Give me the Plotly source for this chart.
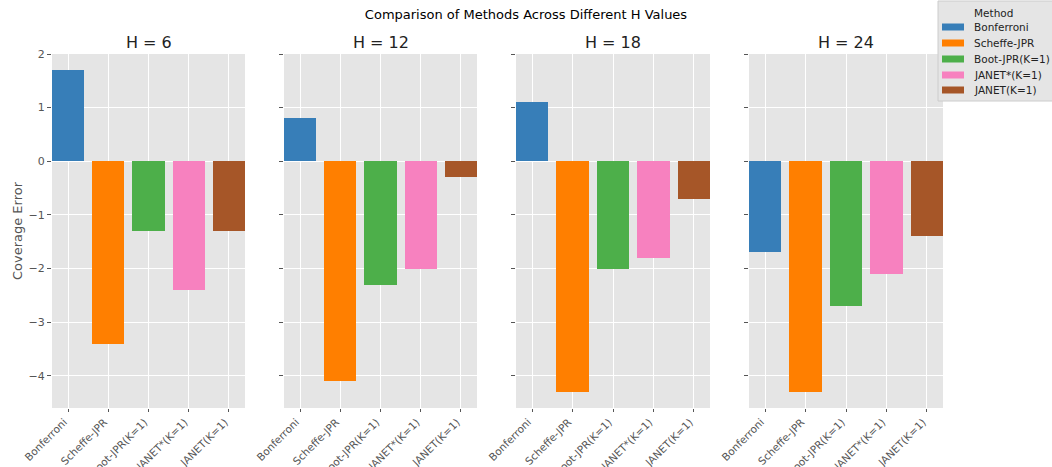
import plotly.graph_objects as go

methods = ["Bonferroni", "Scheffe-JPR", "Boot-JPR(K=1)", "JANET*(K=1)", "JANET(K=1)"]
colors = ["#377eb8", "#ff7f00", "#4daf4a", "#f781bf", "#a65628"]
h_values = ["H = 6", "H = 12", "H = 18", "H = 24"]
values_h6 = [1.7, -3.4, -1.3, -2.4, -1.3]
values_h12 = [0.8, -4.1, -2.3, -2.0, -0.3]
values_h18 = [1.1, -4.3, -2.0, -1.8, -0.7]
values_h24 = [-1.7, -4.3, -2.7, -2.1, -1.4]
panels = [values_h6, values_h12, values_h18, values_h24]
y_ticks = [-4, -3, -2, -1, 0, 1, 2]

W, H = 1052, 467
x_px = [(52, 245), (284, 477), (516, 710), (749, 943)]
y_dom = [(H - 408) / H, (H - 54) / H]

def px(x):
    return x / W

def py(y):
    return (H - y) / H

fig = go.Figure()
font_fam = "DejaVu Sans"
for p, vals in enumerate(panels):
    xa = "x" if p == 0 else f"x{p+1}"
    ya = "y" if p == 0 else f"y{p+1}"
    for m, (name, col) in enumerate(zip(methods, colors)):
        fig.add_trace(go.Bar(
            x=[name], y=[vals[m]], name=name, marker=dict(color=col, line=dict(width=0)),
            width=0.8, xaxis=xa, yaxis=ya, showlegend=False,
        ))
    axkey = "xaxis" if p == 0 else f"xaxis{p+1}"
    aykey = "yaxis" if p == 0 else f"yaxis{p+1}"
    fig.layout[axkey] = dict(
        domain=[px(x_px[p][0]), px(x_px[p][1])], anchor=ya, type="category",
        categoryorder="array", categoryarray=methods, range=[-0.4, 4.4],
        showgrid=True, gridcolor="white", gridwidth=1, tickangle=-45,
        tickfont=dict(family=font_fam, size=10.5, color="#555555"),
        ticks="outside", ticklen=3, tickcolor="#555555", showline=False, zeroline=False,
        automargin=False, ticklabelshift=-4,
    )
    fig.layout[aykey] = dict(
        domain=list(y_dom), anchor=xa, range=[-4.6, 2.0], tickvals=y_ticks,
        ticktext=[str(t).replace("-", "\u2212") for t in y_ticks],
        showticklabels=(p == 0), showgrid=True, gridcolor="white", gridwidth=1,
        zeroline=False, ticks="outside", ticklen=4, tickcolor="#555555",
        tickfont=dict(family=font_fam, size=11, color="#555555"), automargin=False,
        title=dict(text="Coverage Error" if p == 0 else "",
                   font=dict(family=font_fam, size=13, color="#555555"), standoff=3),
    )
    fig.add_annotation(
        text=h_values[p], x=px((x_px[p][0] + x_px[p][1]) / 2), y=py(42),
        xref="paper", yref="paper", showarrow=False,
        font=dict(family=font_fam, size=16, color="#222222"), xanchor="center", yanchor="middle",
    )

# Legend drawn manually so it can run off the right edge like the reference
fig.add_shape(type="rect", xref="paper", yref="paper",
              x0=px(938), x1=px(1060), y0=py(101), y1=py(1),
              fillcolor="#e5e5e5", line=dict(color="#cccccc", width=1), layer="above")
fig.add_annotation(text="Method", x=px(993), y=py(13), xref="paper", yref="paper",
                   showarrow=False, xanchor="center", yanchor="middle",
                   font=dict(family=font_fam, size=10.5, color="#222222"))
row_y = [27, 43, 59, 75, 90]
for name, col, ry in zip(methods, colors, row_y):
    fig.add_shape(type="rect", xref="paper", yref="paper",
                  x0=px(942), x1=px(964), y0=py(ry + 3.5), y1=py(ry - 3.5),
                  fillcolor=col, line=dict(width=0), layer="above")
    fig.add_annotation(text=name, x=px(972), y=py(ry), xref="paper", yref="paper",
                       showarrow=False, xanchor="left", yanchor="middle",
                       font=dict(family=font_fam, size=10.5, color="#222222"))

fig.update_layout(
    width=W, height=H, margin=dict(l=0, r=0, t=0, b=0),
    paper_bgcolor="white", plot_bgcolor="#e5e5e5",
    barmode="overlay", bargap=0, showlegend=False,
    title=dict(text="Comparison of Methods Across Different H Values", x=0.5, xanchor="center",
               y=py(14), yanchor="middle",
               font=dict(family=font_fam, size=13, color="black")),
    font=dict(family=font_fam),
)

fig.write_html("out.html", post_script="document.body.style.margin='0';",
               config={"displayModeBar": False})
